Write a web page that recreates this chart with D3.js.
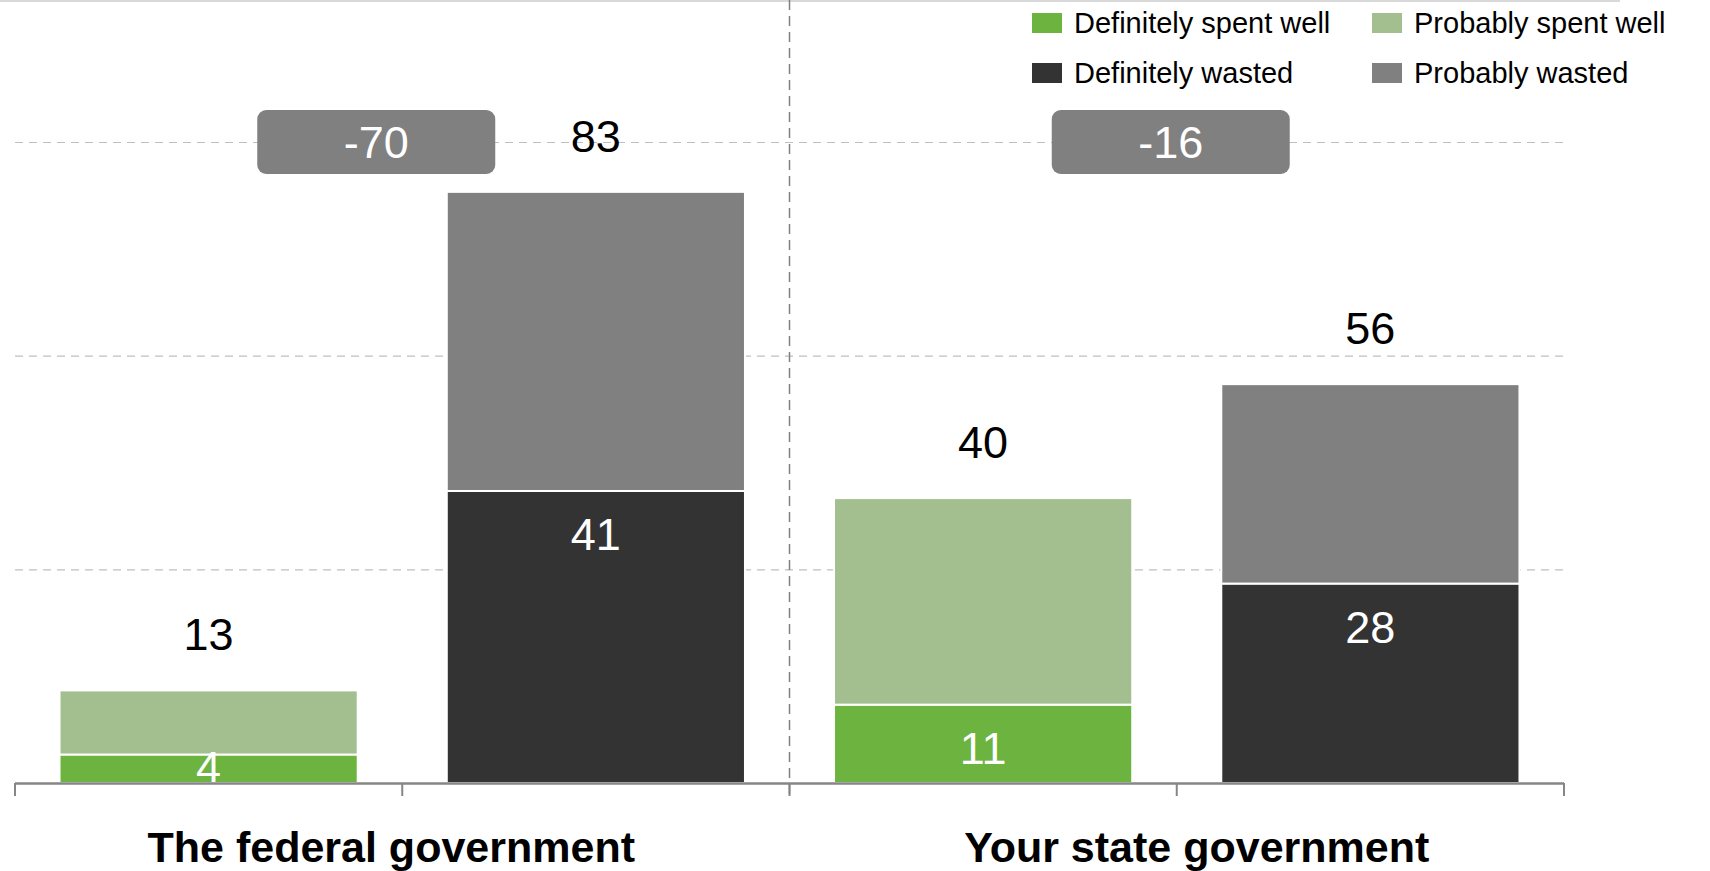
<!DOCTYPE html>
<html>
<head>
<meta charset="utf-8">
<script src="https://cdn.jsdelivr.net/npm/d3@7"></script>
<style>
  html, body { margin: 0; padding: 0; background: #ffffff; }
  svg { display: block; font-family: "Liberation Sans", Arial, sans-serif; }
</style>
</head>
<body>
<svg id="chart" width="1710" height="871"></svg>
<script>
// ---- data ----
const categories = ["The federal government", "Your state government"];
const barKinds = ["spent", "wasted"];
const definitelySpentWell = [4, 11];
const probablySpentWell = [9, 29];
const definitelyWasted = [41, 28];
const probablyWasted = [42, 28];
const gridTicks = [30, 60, 90];
const legendLabels = ["Definitely spent well", "Probably spent well", "Definitely wasted", "Probably wasted"];

// ---- styles / layout ----
const colors = {
  defSpent: "#6db33f",
  probSpent: "#a3bf90",
  defWasted: "#333333",
  probWasted: "#808080"
};
const legendColors = [colors.defSpent, colors.probSpent, colors.defWasted, colors.probWasted];
const boxShift = [-26, -6];
const catLabelShift = [-11, 20];

const svg = d3.select("#chart");

const keys = [];
categories.forEach((c, i) => barKinds.forEach(k => keys.push(i + "-" + k)));

const x = d3.scaleBand().domain(keys).range([15, 1564]).paddingInner(0.23).paddingOuter(0.115);
const y = d3.scaleLinear().domain([0, 90]).range([783, 142]);

// top border
svg.append("line").attr("x1", 0).attr("x2", 1620).attr("y1", 1).attr("y2", 1)
  .attr("stroke", "#d9d9d9").attr("stroke-width", 2);

// gridlines
const grid = svg.append("g").attr("transform", "translate(15,0)")
  .call(d3.axisLeft(y).tickValues(gridTicks).tickSize(-(1564 - 15)).tickFormat(""));
grid.select(".domain").remove();
grid.selectAll("line").attr("stroke", "#c0c0c0").attr("stroke-width", 1.2).attr("stroke-dasharray", "8,6");

// build stacks
const stacks = [];
categories.forEach((c, i) => {
  stacks.push({ key: i + "-spent", cat: i, segs: [
    { v0: 0, v1: definitelySpentWell[i], color: colors.defSpent, label: true },
    { v0: definitelySpentWell[i], v1: definitelySpentWell[i] + probablySpentWell[i], color: colors.probSpent, label: false }
  ]});
  stacks.push({ key: i + "-wasted", cat: i, segs: [
    { v0: 0, v1: definitelyWasted[i], color: colors.defWasted, label: true },
    { v0: definitelyWasted[i], v1: definitelyWasted[i] + probablyWasted[i], color: colors.probWasted, label: false }
  ]});
});

const barG = svg.append("g");
stacks.forEach(s => {
  const g = barG.append("g");
  g.selectAll("rect").data(s.segs).join("rect")
    .attr("x", x(s.key))
    .attr("width", x.bandwidth())
    .attr("y", d => y(d.v1))
    .attr("height", d => y(d.v0) - y(d.v1))
    .attr("fill", d => d.color)
    .attr("stroke", "#ffffff")
    .attr("stroke-width", 2);
  // inner labels
  s.segs.filter(d => d.label).forEach(d => {
    const top = y(d.v1), bot = y(d.v0);
    const cy = Math.min(top + 43, bot - 16);
    g.append("text")
      .attr("x", x(s.key) + x.bandwidth() / 2)
      .attr("y", cy + 16)
      .attr("text-anchor", "middle")
      .attr("fill", "#ffffff")
      .attr("font-size", 45)
      .text(d.v1 - d.v0);
  });
  // total label
  const total = s.segs[s.segs.length - 1].v1;
  g.append("text")
    .attr("x", x(s.key) + x.bandwidth() / 2)
    .attr("y", y(total) - 40)
    .attr("text-anchor", "middle")
    .attr("fill", "#000000")
    .attr("font-size", 45)
    .text(total);
});

// x axis
const step = x.step();
const x0 = x.range()[0];
const bounds = d3.range(keys.length + 1).map(i => x0 + i * step);
svg.append("line").attr("x1", x0).attr("x2", x.range()[1]).attr("y1", y(0) + 0.5).attr("y2", y(0) + 0.5)
  .attr("stroke", "#868686").attr("stroke-width", 2.5);
svg.selectAll(".tick-b").data(bounds).join("line")
  .attr("x1", d => d).attr("x2", d => d)
  .attr("y1", y(0)).attr("y2", y(0) + 13)
  .attr("stroke", "#868686").attr("stroke-width", 2);

// divider
svg.append("line").attr("x1", bounds[2]).attr("x2", bounds[2]).attr("y1", 0).attr("y2", y(0) + 13)
  .attr("stroke", "#808080").attr("stroke-width", 1.5).attr("stroke-dasharray", "10,6");

// difference boxes and category labels
categories.forEach((c, i) => {
  const cx = (bounds[2 * i] + bounds[2 * i + 2]) / 2 + boxShift[i];
  const diff = (definitelySpentWell[i] + probablySpentWell[i]) - (definitelyWasted[i] + probablyWasted[i]);
  const cy = y(90);
  svg.append("rect").attr("x", cx - 119).attr("y", cy - 32).attr("width", 238).attr("height", 64)
    .attr("rx", 9).attr("fill", "#808080");
  svg.append("text").attr("x", cx).attr("y", cy + 16).attr("text-anchor", "middle")
    .attr("fill", "#ffffff").attr("font-size", 45).text(diff);
  svg.append("text")
    .attr("x", (bounds[2 * i] + bounds[2 * i + 2]) / 2 + catLabelShift[i])
    .attr("y", 862)
    .attr("text-anchor", "middle")
    .attr("font-weight", "bold")
    .attr("font-size", 43)
    .attr("fill", "#000000")
    .text(c);
});

// legend
const legPos = [[1032, 23], [1372, 23], [1032, 73], [1372, 73]];
legendLabels.forEach((l, i) => {
  const [lx, ly] = legPos[i];
  svg.append("rect").attr("x", lx).attr("y", ly - 10).attr("width", 30).attr("height", 20).attr("fill", legendColors[i]);
  svg.append("text").attr("x", lx + 42).attr("y", ly + 10).attr("font-size", 29).attr("fill", "#000").text(l);
});
</script>
</body>
</html>
